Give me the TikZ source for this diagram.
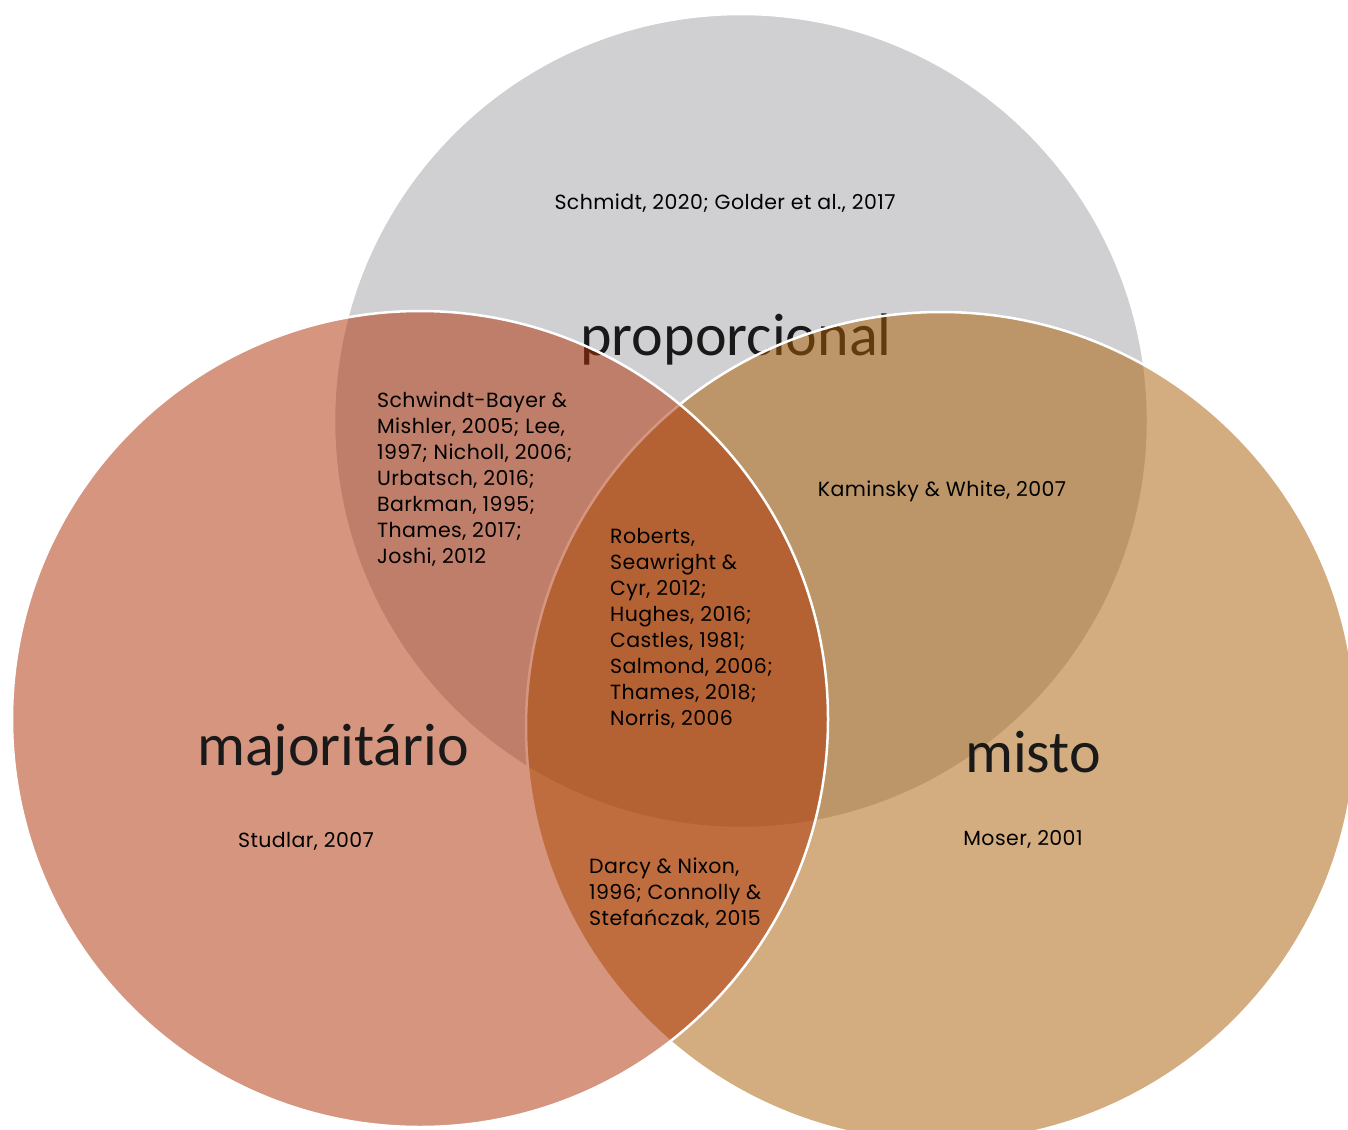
\documentclass[tikz,border=0pt]{standalone}
\usepackage{fontspec}
\usepackage{xcolor}
\usepackage{tikz}

\newfontfamily\rotulofont{Carlito}
\newfontfamily\refsfont[LetterSpace=2]{Poppins}

\definecolor{cinza}{RGB}{208,208,210}
\definecolor{salmao}{RGB}{173,45,1}
\definecolor{areia}{RGB}{169,93,0}

\tikzset{
  conjunto/.style={draw=white, line width=2.5pt},
  rotulo/.style={font=\rotulofont\fontsize{60}{70}\selectfont, text=black!90, inner sep=0pt},
  refs/.style={font=\refsfont\fontsize{20.5}{26}\selectfont, align=left, inner sep=0pt},
}

\begin{document}
\begin{tikzpicture}[x=1pt, y=-1pt]
\useasboundingbox (0,0) rectangle (1348,1129);
\fill[white] (0,0) rectangle (1348,1129);

\coordinate (cP) at (741,421);
\coordinate (cMi) at (941,727);
\coordinate (cMa) at (420,719);

% Conjunto proporcional
\draw[conjunto, fill=cinza] (cP) circle[radius=407pt];
\node[rotulo, anchor=base] (prop) at (736,355) {proporcional};

% Conjunto misto
\draw[conjunto, fill=areia, fill opacity=0.5] (cMi) circle[radius=415pt];

% Conjunto majoritario
\draw[conjunto, fill=salmao, fill opacity=0.5] (cMa) circle[radius=408pt];

% Rotulos
\node[rotulo, anchor=base] (maj) at (333,765) {majoritário};
\node[rotulo, anchor=base] (misto) at (1033,772) {misto};

% Referencias (ancoradas na ultima linha)
\node[refs, anchor=base] (schmidt) at (725,209) {Schmidt, 2020; Golder et al., 2017};
\node[refs, anchor=base west] (propmaj) at (377,563)
{Schwindt-Bayer \&\\Mishler, 2005; Lee,\\1997; Nicholl, 2006;\\Urbatsch, 2016;\\Barkman, 1995;\\Thames, 2017;\\Joshi, 2012};
\node[refs, anchor=base west] (todos) at (610,725)
{Roberts,\\Seawright \&\\Cyr, 2012;\\Hughes, 2016;\\Castles, 1981;\\Salmond, 2006;\\Thames, 2018;\\Norris, 2006};
\node[refs, anchor=base west] (majmisto) at (589,925)
{Darcy \& Nixon,\\1996; Connolly \&\\Stefańczak, 2015};
\node[refs, anchor=base] (kaminsky) at (942,496) {Kaminsky \& White, 2007};
\node[refs, anchor=base] (moser) at (1023,845) {Moser, 2001};
\node[refs, anchor=base] (studlar) at (306,847) {Studlar, 2007};

\end{tikzpicture}
\end{document}
